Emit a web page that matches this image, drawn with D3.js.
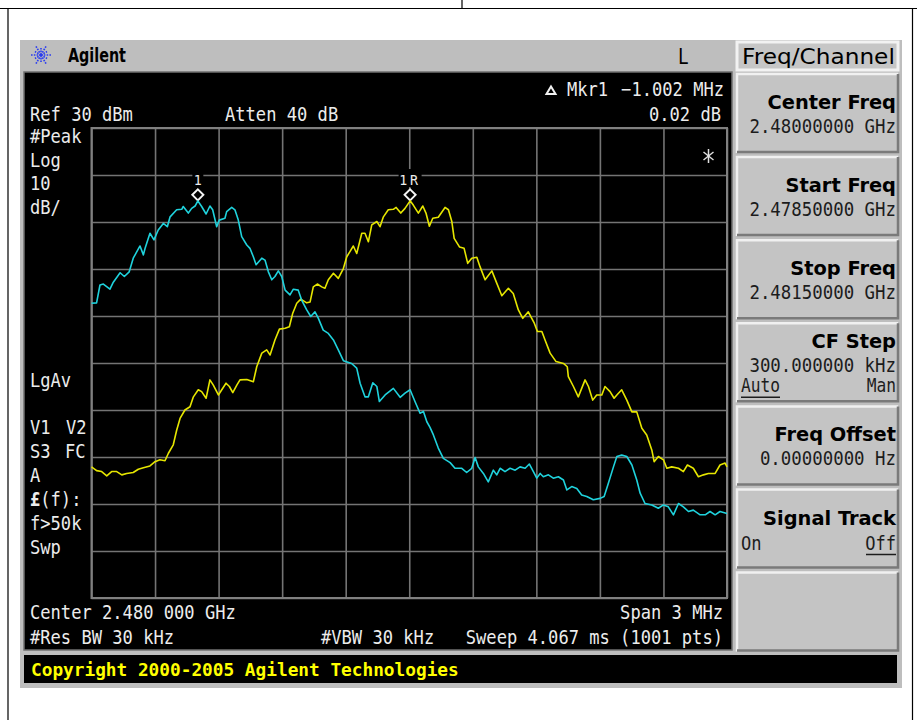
<!DOCTYPE html>
<html><head><meta charset="utf-8">
<script src="https://cdn.jsdelivr.net/npm/d3@7"></script>
<style>body{margin:0;background:#fff;}svg{display:block;}</style>
</head><body>
<svg id="c" width="917" height="720"></svg>
<script>
// ---------------- data ----------------
const centerGHz = 2.48;
const spanMHz = 3;
const refLevel = 30;          // dBm, top of graticule
const dbPerDiv = 10;
const xDivisions = 10;
const yDivisions = 10;

// trace 1 (cyan): [frequency offset from center in MHz, level in dBm]
const cyanTrace = [[-1.500,-7.3],[-1.476,-7.2],[-1.460,-3.4],[-1.444,-3.2],[-1.413,-4.3],[-1.397,-2.8],[-1.365,-0.8],[-1.345,-1.6],[-1.322,-0.6],[-1.303,2.3],[-1.271,4.9],[-1.255,3.0],[-1.247,4.4],[-1.224,7.6],[-1.205,6.2],[-1.185,8.3],[-1.161,9.7],[-1.142,9.0],[-1.129,11.1],[-1.098,12.6],[-1.074,12.7],[-1.067,13.3],[-1.043,11.9],[-1.027,12.9],[-1.011,13.4],[-0.998,14.5],[-0.980,13.3],[-0.959,11.7],[-0.941,13.4],[-0.928,12.6],[-0.909,9.0],[-0.897,10.4],[-0.870,10.8],[-0.862,12.2],[-0.838,13.1],[-0.823,12.6],[-0.807,10.4],[-0.791,6.9],[-0.767,5.1],[-0.752,4.4],[-0.736,2.6],[-0.723,0.9],[-0.696,2.3],[-0.681,1.9],[-0.665,-0.6],[-0.649,-2.3],[-0.634,-1.6],[-0.618,-0.4],[-0.602,-1.6],[-0.586,-4.5],[-0.563,-5.5],[-0.547,-4.3],[-0.524,-4.5],[-0.508,-6.6],[-0.484,-8.7],[-0.465,-10.1],[-0.445,-9.1],[-0.429,-10.5],[-0.406,-13.0],[-0.382,-13.7],[-0.358,-15.1],[-0.335,-17.2],[-0.311,-19.5],[-0.272,-20.1],[-0.248,-21.1],[-0.232,-24.3],[-0.209,-27.2],[-0.193,-27.2],[-0.172,-24.2],[-0.153,-25.0],[-0.141,-28.2],[-0.114,-26.8],[-0.075,-25.4],[-0.043,-27.3],[-0.020,-26.4],[0.004,-25.7],[0.027,-28.2],[0.051,-30.7],[0.067,-30.3],[0.083,-32.5],[0.098,-33.7],[0.114,-35.3],[0.137,-38.1],[0.161,-40.3],[0.193,-41.2],[0.216,-42.4],[0.248,-42.4],[0.271,-43.3],[0.295,-42.4],[0.311,-40.1],[0.326,-42.1],[0.350,-43.5],[0.373,-45.3],[0.397,-42.8],[0.413,-43.8],[0.429,-42.4],[0.452,-43.1],[0.476,-42.4],[0.500,-42.8],[0.523,-42.1],[0.547,-42.4],[0.567,-41.5],[0.586,-43.1],[0.602,-44.5],[0.618,-43.5],[0.633,-44.2],[0.657,-43.8],[0.680,-44.5],[0.704,-44.2],[0.728,-44.9],[0.744,-47.0],[0.767,-46.3],[0.791,-46.7],[0.814,-48.1],[0.838,-48.4],[0.869,-49.1],[0.901,-48.8],[0.920,-48.4],[0.940,-45.6],[0.964,-42.1],[0.980,-39.9],[1.003,-39.6],[1.027,-39.9],[1.051,-41.7],[1.074,-44.9],[1.090,-47.7],[1.113,-49.9],[1.145,-50.2],[1.176,-50.9],[1.200,-50.2],[1.223,-50.6],[1.247,-52.3],[1.271,-49.9],[1.294,-50.6],[1.318,-51.6],[1.341,-51.3],[1.373,-52.3],[1.397,-52.3],[1.420,-51.6],[1.444,-52.3],[1.467,-51.6],[1.500,-52.0]];

// trace 2 (yellow)
const yellowTrace = [[-1.500,-42.1],[-1.476,-42.9],[-1.452,-43.1],[-1.428,-44.0],[-1.405,-43.1],[-1.381,-43.1],[-1.357,-43.8],[-1.334,-43.5],[-1.303,-43.3],[-1.279,-42.6],[-1.255,-42.3],[-1.224,-41.9],[-1.200,-41.0],[-1.177,-40.6],[-1.153,-40.8],[-1.137,-39.2],[-1.114,-37.4],[-1.098,-34.3],[-1.082,-31.8],[-1.059,-30.0],[-1.035,-29.3],[-1.019,-27.2],[-0.996,-25.7],[-0.980,-26.1],[-0.959,-27.5],[-0.941,-23.6],[-0.925,-24.7],[-0.901,-26.8],[-0.885,-25.7],[-0.865,-24.3],[-0.849,-25.0],[-0.833,-26.3],[-0.814,-24.7],[-0.799,-23.6],[-0.767,-23.5],[-0.736,-24.0],[-0.720,-20.8],[-0.696,-17.9],[-0.673,-17.2],[-0.657,-18.3],[-0.634,-15.1],[-0.613,-12.8],[-0.586,-12.6],[-0.566,-12.3],[-0.550,-9.4],[-0.531,-7.3],[-0.512,-6.4],[-0.484,-7.2],[-0.468,-7.0],[-0.453,-3.8],[-0.434,-3.2],[-0.413,-3.8],[-0.398,-4.1],[-0.382,-2.3],[-0.358,-0.9],[-0.335,-2.0],[-0.311,0.1],[-0.295,2.6],[-0.280,3.7],[-0.264,4.9],[-0.248,3.3],[-0.224,7.6],[-0.209,7.6],[-0.193,5.8],[-0.177,9.4],[-0.153,10.1],[-0.138,9.0],[-0.122,11.1],[-0.099,12.6],[-0.075,12.7],[-0.062,13.1],[-0.040,11.9],[-0.020,12.9],[0.004,14.5],[0.019,13.6],[0.043,11.9],[0.064,13.4],[0.079,11.9],[0.095,9.1],[0.111,10.8],[0.137,11.0],[0.169,13.1],[0.185,12.6],[0.201,10.1],[0.212,6.5],[0.237,4.7],[0.259,4.4],[0.276,1.2],[0.295,2.3],[0.319,2.5],[0.334,0.5],[0.358,-2.3],[0.390,-0.4],[0.413,-3.0],[0.437,-5.7],[0.468,-4.1],[0.491,-5.2],[0.515,-8.7],[0.536,-10.5],[0.562,-9.1],[0.589,-11.4],[0.605,-13.3],[0.626,-13.3],[0.641,-15.1],[0.665,-17.9],[0.693,-19.7],[0.728,-20.1],[0.746,-20.8],[0.751,-22.9],[0.775,-25.0],[0.798,-27.2],[0.830,-23.6],[0.846,-25.0],[0.866,-27.9],[0.885,-26.8],[0.909,-26.8],[0.924,-25.0],[0.948,-26.1],[0.967,-27.5],[0.980,-26.8],[1.003,-25.7],[1.027,-27.9],[1.051,-30.4],[1.074,-30.4],[1.098,-33.9],[1.121,-35.3],[1.145,-38.5],[1.156,-41.0],[1.176,-39.9],[1.200,-40.6],[1.216,-42.4],[1.239,-42.1],[1.271,-42.4],[1.294,-43.1],[1.313,-41.7],[1.341,-42.4],[1.365,-44.2],[1.389,-43.8],[1.412,-43.5],[1.444,-43.5],[1.467,-41.7],[1.491,-41.3],[1.500,-42.1]];

// markers: [label, frequency offset MHz, level dBm]
const markers = [["1", -0.998, 14.5], ["1R", 0.004, 14.5]];

// annotation texts
const leftLabels = ["#Peak", "Log", "10", "dB/"];
const leftLabels2 = ["A", "f>50k", "Swp"];
const softkeys = [
  ["Center Freq", "2.48000000 GHz"],
  ["Start Freq", "2.47850000 GHz"],
  ["Stop Freq", "2.48150000 GHz"],
  ["CF Step", "300.000000 kHz"],
  ["Freq Offset", "0.00000000  Hz"],
  ["Signal Track", ""],
  ["", ""]
];

// ---------------- drawing ----------------
const svg = d3.select("#c");
const MONO = "'DejaVu Sans Mono','Liberation Mono',monospace";
const SANS = "'DejaVu Sans','Liberation Sans',sans-serif";

function label(parent, s, x, y, o = {}) {
  const t = parent.append("text")
    .attr("font-family", o.font || MONO)
    .attr("font-size", o.size || 20)
    .attr("font-weight", o.bold ? "bold" : "normal")
    .attr("fill", o.fill || "#ececec")
    .attr("text-anchor", o.anchor || "start")
    .text(s);
  if (o.ls) t.attr("letter-spacing", o.ls);
  let sx = o.sx || 0.855;
  if (o.w) sx = o.w / t.node().getComputedTextLength();
  t.attr("transform", `translate(${x},${y}) scale(${sx},1)`);
  return t;
}

// page frame
svg.append("rect").attr("width", 917).attr("height", 720).attr("fill", "#fff");
const frame = svg.append("g").attr("stroke", "#000").attr("stroke-width", 1.2).attr("fill", "none");
frame.append("path").attr("d", "M0,8.5H917 M462,0V8.5 M8,8.5V720 M912.5,8.5V720");

// instrument panel
svg.append("rect").attr("x", 20).attr("y", 40).attr("width", 882).attr("height", 648).attr("fill", "#bebebe");
svg.append("rect").attr("x", 24).attr("y", 72).attr("width", 708).attr("height", 578)
  .attr("fill", "#000").attr("stroke", "#707070").attr("stroke-width", 1.5);
svg.append("rect").attr("x", 24).attr("y", 655).attr("width", 873).attr("height", 28).attr("fill", "#000");

// header: logo + Agilent + L
const logo = svg.append("g").attr("transform", "translate(41,55)")
  .attr("stroke", "#2a3cf0").attr("stroke-width", 1.6).attr("stroke-dasharray", "1.6,1.2");
d3.range(12).forEach(i => {
  const a = i * Math.PI / 6, r = i % 2 ? 7 : 10;
  logo.append("line").attr("x1", 0).attr("y1", 0).attr("x2", r * Math.cos(a)).attr("y2", r * Math.sin(a));
});
label(svg, "Agilent", 68, 62, {font: SANS, size: 19, bold: true, fill: "#000", w: 58});
label(svg, "L", 678, 64, {size: 22, fill: "#000", sx: 0.8});

// softkey panel
const title = svg.append("g");
title.append("rect").attr("x", 737).attr("y", 42).attr("width", 161).attr("height", 28)
  .attr("fill", "#c6c6c6").attr("stroke", "#f2f2f2").attr("stroke-width", 3);
label(title, "Freq/Channel", 742, 64, {font: SANS, size: 21, fill: "#000", w: 153});

softkeys.forEach((k, i) => {
  const y0 = 73 + i * 83.1, h = 80;
  const g = svg.append("g");
  g.append("rect").attr("x", 736).attr("y", y0).attr("width", 163).attr("height", h).attr("fill", "#c4c4c4");
  g.append("path").attr("d", `M737,${y0 + h}V${y0 + 1}H898`).attr("stroke", "#f0f0f0").attr("stroke-width", 2.5).attr("fill", "none");
  g.append("path").attr("d", `M737,${y0 + h - 1}H898V${y0 + 1}`).attr("stroke", "#7a7a7a").attr("stroke-width", 2.5).attr("fill", "none");
  const tY = i === 3 ? y0 + 26 : y0 + 36;
  if (k[0]) label(g, k[0], 896, tY, {font: SANS, size: 20, bold: true, fill: "#000", anchor: "end", sx: 0.97});
  if (k[1]) label(g, k[1], 896, tY + 24, {fill: "#1c1c1c", anchor: "end", sx: 0.87});
  if (i === 3) {
    label(g, "Auto", 741, tY + 44, {fill: "#1c1c1c", size: 19});
    g.append("line").attr("x1", 741).attr("x2", 780).attr("y1", tY + 49).attr("y2", tY + 49).attr("stroke", "#1c1c1c").attr("stroke-width", 1.5);
    label(g, "Man", 896, tY + 44, {fill: "#1c1c1c", anchor: "end", size: 19});
  }
  if (i === 5) {
    label(g, "On", 741, tY + 25, {fill: "#1c1c1c"});
    label(g, "Off", 896, tY + 25, {fill: "#1c1c1c", anchor: "end"});
    g.append("line").attr("x1", 866).attr("x2", 896).attr("y1", tY + 30).attr("y2", tY + 30).attr("stroke", "#1c1c1c").attr("stroke-width", 1.5);
  }
});

// graticule
const x = d3.scaleLinear().domain([-spanMHz / 2, spanMHz / 2]).range([91.5, 727]);
const y = d3.scaleLinear().domain([refLevel - dbPerDiv * yDivisions, refLevel]).range([598, 128]);
const xTicks = d3.range(xDivisions + 1).map(i => -spanMHz / 2 + i * spanMHz / xDivisions);
const yTicks = d3.range(yDivisions + 1).map(i => refLevel - i * dbPerDiv);

const grid = svg.append("g");
grid.append("g").attr("transform", `translate(0,${y.range()[0]})`)
  .call(d3.axisBottom(x).tickValues(xTicks).tickSize(-(y.range()[0] - y.range()[1])).tickFormat(""));
grid.append("g").attr("transform", `translate(${x.range()[0]},0)`)
  .call(d3.axisLeft(y).tickValues(yTicks).tickSize(-(x.range()[1] - x.range()[0])).tickFormat(""));
grid.selectAll(".domain").remove();
grid.selectAll(".tick line").attr("stroke", "#747474").attr("stroke-width", 1.6);
grid.append("rect").attr("x", x.range()[0]).attr("y", y.range()[1])
  .attr("width", x.range()[1] - x.range()[0]).attr("height", y.range()[0] - y.range()[1])
  .attr("fill", "none").attr("stroke", "#808080").attr("stroke-width", 2);

// marker label backgrounds (they break the graticule line)
const mk = svg.append("g");
markers.forEach(m => {
  const cx = x(m[1]), w = m[0].length === 1 ? 11 : 23;
  mk.append("rect").attr("x", cx - w / 2).attr("y", 169).attr("width", w).attr("height", 18).attr("fill", "#000");
});

// traces
const line = d3.line().x(d => x(d[0])).y(d => y(d[1]));
svg.append("path").datum(yellowTrace).attr("d", line).attr("fill", "none")
  .attr("stroke", "#e6e600").attr("stroke-width", 1.6).attr("stroke-linejoin", "round");
svg.append("path").datum(cyanTrace).attr("d", line).attr("fill", "none")
  .attr("stroke", "#1fd2dc").attr("stroke-width", 1.6).attr("stroke-linejoin", "round");

// markers
markers.forEach(m => {
  const cx = x(m[1]), cy = y(m[2]) - 6;
  mk.append("path").attr("d", `M${cx},${cy - 5.5}L${cx + 5.5},${cy}L${cx},${cy + 5.5}L${cx - 5.5},${cy}Z`)
    .attr("fill", "#000").attr("stroke", "#f4f4f4").attr("stroke-width", 2);
  label(mk, m[0], cx, cy - 10, {size: 14, anchor: "middle", sx: 0.95, ls: m[0].length > 1 ? 3 : null});
});

// screen annotations
const ann = svg.append("g");
label(ann, "Ref 30 dBm", 30, 121);
label(ann, "Atten 40 dB", 225, 121);
label(ann, "0.02 dB", 721, 121, {anchor: "end"});
label(ann, "Mkr1", 567, 96);
label(ann, "\u22121.002 MHz", 724, 96, {anchor: "end"});
ann.append("path").attr("d", "M551,86.5L555.5,94L546.5,94Z").attr("fill", "#000").attr("stroke", "#f0f0f0").attr("stroke-width", 2);
leftLabels.forEach((s, i) => label(ann, s, 30, 143 + i * 23.7));
label(ann, "LgAv", 30, 387);
label(ann, "V1", 30, 434);
label(ann, "V2", 66, 434);
label(ann, "S3", 30, 458);
label(ann, "FC", 65, 458);
label(ann, leftLabels2[0], 30, 481.5);
const lf = ann.append("text").attr("font-family", MONO).attr("font-size", 20).attr("fill", "#ececec")
  .attr("transform", "translate(30,505.5) scale(0.855,1)");
lf.append("tspan").attr("font-weight", "bold").text("\u00a3");
lf.append("tspan").text("(f):");
label(ann, leftLabels2[1], 30, 530);
label(ann, leftLabels2[2], 30, 554);
// asterisk
const ast = ann.append("g").attr("transform", "translate(708.5,156)").attr("stroke", "#e0e0e0").attr("stroke-width", 1.5);
ast.append("line").attr("x1", 0).attr("x2", 0).attr("y1", -7).attr("y2", 7);
ast.append("line").attr("x1", -5).attr("x2", 5).attr("y1", -4).attr("y2", 4);
ast.append("line").attr("x1", -5).attr("x2", 5).attr("y1", 4).attr("y2", -4);

label(ann, `Center ${centerGHz.toFixed(3)} 000 GHz`, 30, 619);
label(ann, `Span ${spanMHz} MHz`, 723, 619, {anchor: "end"});
label(ann, "#Res BW 30 kHz", 30, 644);
label(ann, "#VBW 30 kHz", 321, 644);
label(ann, "Sweep 4.067 ms (1001 pts)", 723, 644, {anchor: "end"});

label(svg, "Copyright 2000-2005 Agilent Technologies", 31, 676, {size: 18, bold: true, fill: "#ffff00", w: 428});
</script>
</body></html>
